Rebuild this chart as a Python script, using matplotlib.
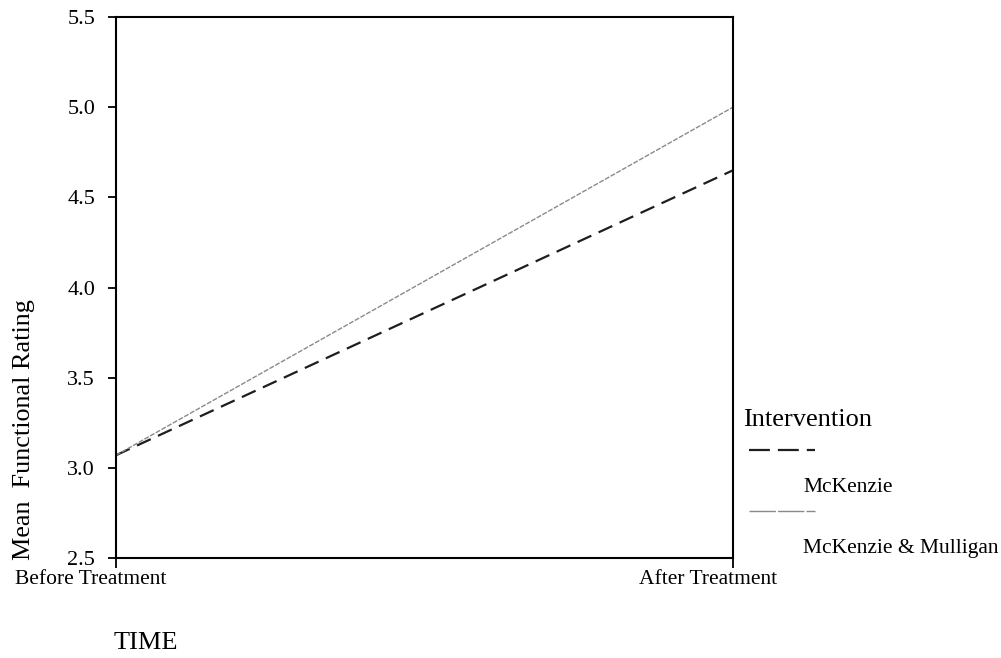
import matplotlib
matplotlib.use("Agg")
import matplotlib.pyplot as plt
from matplotlib.lines import Line2D
from matplotlib.transforms import ScaledTranslation

plt.rcParams['font.family'] = ['Liberation Serif', 'DejaVu Serif']

# data
time_labels = ['Before Treatment', 'After Treatment']
mckenzie = [3.07, 4.65]
mckenzie_mulligan = [3.07, 5.0]
y_ticks = [2.5, 3.0, 3.5, 4.0, 4.5, 5.0, 5.5]

W, H = 1001, 658
fig = plt.figure(figsize=(W / 100, H / 100), dpi=100)
ax = fig.add_axes([116 / W, 1 - 558 / H, (733 - 116) / W, (558 - 17) / H])

x = list(range(len(time_labels)))
ax.plot(x, mckenzie, color='#1e1e1e', lw=1.6, dashes=(6.8, 3.6))
ax.plot(x, mckenzie_mulligan, color='#8a8a8a', lw=1.0, dashes=(3.6, 1.1))

ax.set_xlim(0, 1)
ax.set_ylim(2.5, 5.5)
ax.set_yticks(y_ticks)
ax.set_yticklabels([f'{v:.1f}' for v in y_ticks], fontsize=16)
ax.set_xticks(x)
ax.set_xticklabels([])

# category labels sit a bit left of their ticks
shift = ax.get_xaxis_transform() + ScaledTranslation(-0.25, -0.12, fig.dpi_scale_trans)
for xi, lab in zip(x, time_labels):
    ax.text(xi, 0, lab, transform=shift, ha='center', va='top',
            fontsize=15.5, clip_on=False)

for s in ax.spines.values():
    s.set_linewidth(1.5)
ax.tick_params(axis='y', direction='out', length=6, width=1.3, pad=9)
ax.tick_params(axis='x', direction='out', length=7, width=1.3)

# axis titles
fig.text(24 / W, 1 - 560 / H, 'Mean  Functional Rating', rotation=90,
         ha='center', va='bottom', fontsize=18.8)
fig.text(146 / W, 1 - 643 / H, 'TIME', ha='center', va='center', fontsize=19)

# legend drawn by hand (label sits under its line sample)
def px(xp, yp):
    return xp / W, 1 - yp / H

fig.text(*px(743, 420), 'Intervention', ha='left', va='center', fontsize=19)
l1 = Line2D([749 / W, 815 / W], [1 - 450 / H, 1 - 450 / H], color='#1e1e1e',
            lw=1.6, dashes=(9.4, 3.6), transform=fig.transFigure)
fig.add_artist(l1)
fig.text(*px(803, 488), 'McKenzie', ha='left', va='center', fontsize=15.5)
l2 = Line2D([749 / W, 815 / W], [1 - 511 / H, 1 - 511 / H], color='#8a8a8a',
            lw=1.0, dashes=(19, 1.5), transform=fig.transFigure)
fig.add_artist(l2)
fig.text(*px(803, 548), 'McKenzie & Mulligan', ha='left', va='center', fontsize=15.5)

fig.savefig('out.png', dpi=100)
